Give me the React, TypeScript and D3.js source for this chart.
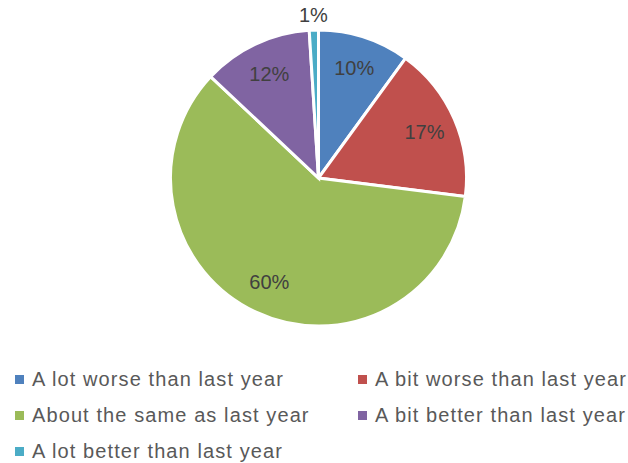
import React from "react";
import * as d3 from "d3";

const categories = [
  "A lot worse than last year",
  "A bit worse than last year",
  "About the same as last year",
  "A bit better than last year",
  "A lot better than last year",
];
const values = [10, 17, 60, 12, 1];
const labels = ["10%", "17%", "60%", "12%", "1%"];
const colors = ["#4F81BD", "#C0504D", "#9BBB59", "#8064A2", "#4BACC6"];

const W = 628;
const H = 463;
const cx = 318.5;
const cy = 178;
const R = 148;

export default function App() {
  const pie = d3.pie<number>().sort(null).value((d) => d);
  const arcs = pie(values);
  const arc = d3.arc<d3.PieArcDatum<number>>().innerRadius(0).outerRadius(R);
  const labelArc = d3.arc<d3.PieArcDatum<number>>().innerRadius(R * 0.78).outerRadius(R * 0.78);
  const outArc = d3.arc<d3.PieArcDatum<number>>().innerRadius(R * 1.1).outerRadius(R * 1.1);

  const legendCol = d3.scaleOrdinal<number, number>().domain([0, 1]).range([15, 358]);
  const legendRow = d3.scaleLinear().domain([0, 1]).range([386, 422]);

  return (
    <svg
      width={W}
      height={H}
      style={{ position: "absolute", left: 0, top: 0, background: "#fff" }}
      fontFamily="'Liberation Sans', Arial, sans-serif"
    >
      <g transform={`translate(${cx},${cy})`}>
        {arcs.map((a, i) => (
          <path key={i} d={arc(a) || ""} fill={colors[i]} stroke="#fff" strokeWidth={3} strokeLinejoin="miter" />
        ))}
        {arcs.map((a, i) => {
          const [x, y] = values[i] < 3 ? outArc.centroid(a) : labelArc.centroid(a);
          return (
            <text
              key={i}
              x={x}
              y={y}
              textAnchor="middle"
              dominantBaseline="central"
              fontSize={20}
              fill="#404040"
            >
              {labels[i]}
            </text>
          );
        })}
      </g>
      <g>
        {categories.map((c, i) => {
          const col = i % 2;
          const row = Math.floor(i / 2);
          const x = legendCol(col);
          const y = legendRow(row);
          return (
            <g key={c}>
              <rect x={x} y={y - 11} width={9} height={9} fill={colors[i]} />
              <text x={x + 17} y={y} fontSize={20} letterSpacing={1.1} fill="#595959">
                {c}
              </text>
            </g>
          );
        })}
      </g>
    </svg>
  );
}
